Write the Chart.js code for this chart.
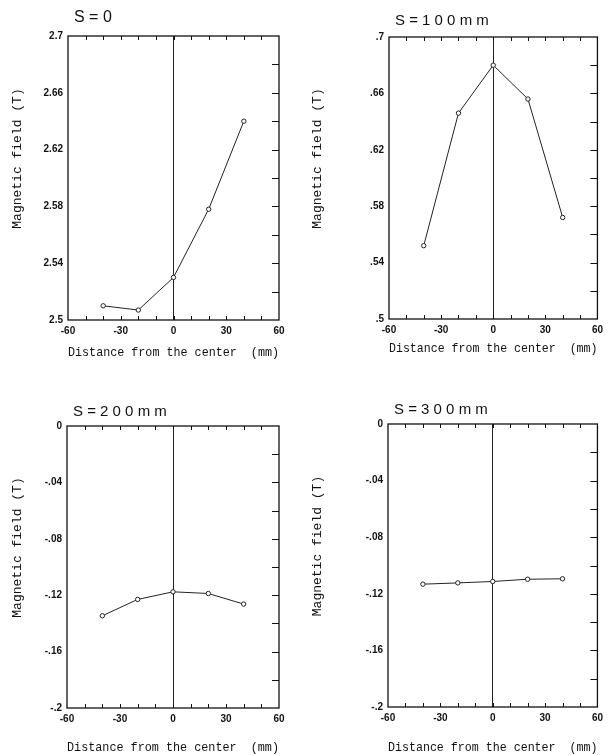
<!DOCTYPE html>
<html>
<head>
<meta charset="utf-8">
<script src="https://cdn.jsdelivr.net/npm/chart.js@4.4.0/dist/chart.umd.min.js"></script>
<style>
body { margin: 0; background: #fff; }
#wrap { position: relative; width: 608px; height: 755px; }
canvas { position: absolute; }
</style>
</head>
<body>
<div id="wrap">
<canvas id="c0" width="300" height="370" style="left:0;top:0"></canvas>
<canvas id="c1" width="308" height="370" style="left:300px;top:0"></canvas>
<canvas id="c2" width="300" height="385" style="left:0;top:370px"></canvas>
<canvas id="c3" width="308" height="385" style="left:300px;top:370px"></canvas>
</div>
<script>
// measured points, distance from the center (mm)
const distances = [-40, -20, 0, 20, 40];
const fieldS0 = [2.510, 2.507, 2.530, 2.578, 2.640];
const fieldS100 = [0.552, 0.646, 0.680, 0.656, 0.572];
const fieldS200 = [-0.1346, -0.1230, -0.1176, -0.1188, -0.1263];
const fieldS300 = [-0.1132, -0.1123, -0.1113, -0.1097, -0.1094];

const panelTitles = ['S = 0', 'S = 1 0 0 m m', 'S = 2 0 0 m m', 'S = 3 0 0 m m'];
const xTickLabels = ['-60', '-30', '0', '30', '60'];
const yTickLabelsS0 = ['2.5', '2.54', '2.58', '2.62', '2.66', '2.7'];
const yTickLabelsS100 = ['.5', '.54', '.58', '.62', '.66', '.7'];
const yTickLabelsS200 = ['-.2', '-.16', '-.12', '-.08', '-.04', '0'];
const yTickLabelsS300 = ['-.2', '-.16', '-.12', '-.08', '-.04', '0'];
const yMin = [2.5, 0.5, -0.2, -0.2];
const yMax = [2.7, 0.7, 0, 0];

const xTitle = 'Distance from the center  (mm)';
const yTitle = '     Magnetic field (T)';

// frame, inward ticks and panel title
const framePlugin = {
    id: 'frame',
    afterDatasetsDraw(chart, args, opts) {
        const { ctx, chartArea: a, scales: { x, y } } = chart;
        ctx.save();
        ctx.strokeStyle = '#111';
        ctx.lineWidth = 1;
        ctx.beginPath();
        x.ticks.forEach(t => {
            if (t.value <= x.min || t.value >= x.max) return;
            const px = Math.round(x.getPixelForValue(t.value)) + 0.5;
            ctx.moveTo(px, a.top); ctx.lineTo(px, a.top + 4);
            ctx.moveTo(px, a.bottom); ctx.lineTo(px, a.bottom - 4);
        });
        y.ticks.forEach(t => {
            if (Math.abs(t.value - y.min) < 1e-6 || Math.abs(t.value - y.max) < 1e-6) return;
            const py = Math.round(y.getPixelForValue(t.value)) + 0.5;
            ctx.moveTo(a.right, py); ctx.lineTo(a.right - 7, py);
        });
        ctx.stroke();
        ctx.lineWidth = 1.3;
        ctx.strokeRect(a.left, a.top, a.width, a.height);
        ctx.fillStyle = '#111';
        ctx.font = opts.size + 'px "Liberation Sans"';
        ctx.textBaseline = 'middle';
        ctx.fillText(opts.text, a.left + 6, a.top + opts.dy);
        ctx.restore();
    }
};

function createPanel(id, values, yLabels, i, box) {
    const ctx = document.getElementById(id).getContext('2d');
    return new Chart(ctx, {
        type: 'line',
        data: {
            datasets: [{
                data: distances.map((d, k) => ({ x: d, y: values[k] })),
                borderColor: '#222',
                borderWidth: 1,
                pointRadius: 2.2,
                pointBorderWidth: 1,
                pointBackgroundColor: '#fff',
                pointBorderColor: '#222',
                tension: 0
            }]
        },
        options: {
            responsive: false,
            animation: false,
            layout: { padding: { top: box.top, right: box.right, bottom: 0, left: 0 } },
            plugins: {
                legend: { display: false },
                tooltip: { enabled: false },
                frame: { text: panelTitles[i], dy: box.titleDy, size: box.titleSize }
            },
            scales: {
                x: {
                    type: 'linear',
                    min: -60, max: 60,
                    afterFit: s => { s.height = box.xh; },
                    border: { display: false },
                    grid: {
                        drawTicks: false,
                        color: c => (c.tick && c.tick.value === 0 ? '#222' : 'rgba(0,0,0,0)'),
                        lineWidth: 1
                    },
                    ticks: {
                        stepSize: 10,
                        autoSkip: false,
                        maxRotation: 0,
                        padding: 5,
                        color: '#111',
                        font: { family: '"Liberation Sans"', size: 10, weight: 'bold' },
                        callback: (v, k) => (k % 3 === 0 ? xTickLabels[k / 3] : '')
                    },
                    title: {
                        display: true,
                        text: xTitle,
                        color: '#111',
                        font: { family: '"Liberation Mono"', size: 13 },
                        padding: { top: 0, bottom: box.xtp }
                    }
                },
                y: {
                    min: yMin[i], max: yMax[i],
                    afterFit: s => { s.width = box.yw; },
                    border: { display: false },
                    grid: { display: false, drawTicks: false },
                    ticks: {
                        stepSize: 0.02,
                        autoSkip: false,
                        padding: 5,
                        color: '#111',
                        font: { family: '"Liberation Sans"', size: 10, weight: 'bold' },
                        callback: (v, k) => (k % 2 === 0 ? yLabels[k / 2] : '')
                    },
                    title: {
                        display: true,
                        text: yTitle,
                        color: '#111',
                        font: { family: '"Liberation Mono"', size: 13 },
                        padding: { top: 10, bottom: 0 }
                    }
                }
            }
        },
        plugins: [framePlugin]
    });
}

createPanel('c0', fieldS0, yTickLabelsS0, 0, { top: 36, right: 21, yw: 68, xh: 50, xtp: 10, titleDy: -18, titleSize: 16 });
createPanel('c1', fieldS100, yTickLabelsS100, 1, { top: 37, right: 9, yw: 89, xh: 51, xtp: 14, titleDy: -16, titleSize: 15 });
createPanel('c2', fieldS200, yTickLabelsS200, 2, { top: 56, right: 21, yw: 67, xh: 47, xtp: 0, titleDy: -14, titleSize: 15 });
createPanel('c3', fieldS300, yTickLabelsS300, 3, { top: 54, right: 9, yw: 88, xh: 48, xtp: 0, titleDy: -14, titleSize: 15 });
</script>
</body>
</html>
